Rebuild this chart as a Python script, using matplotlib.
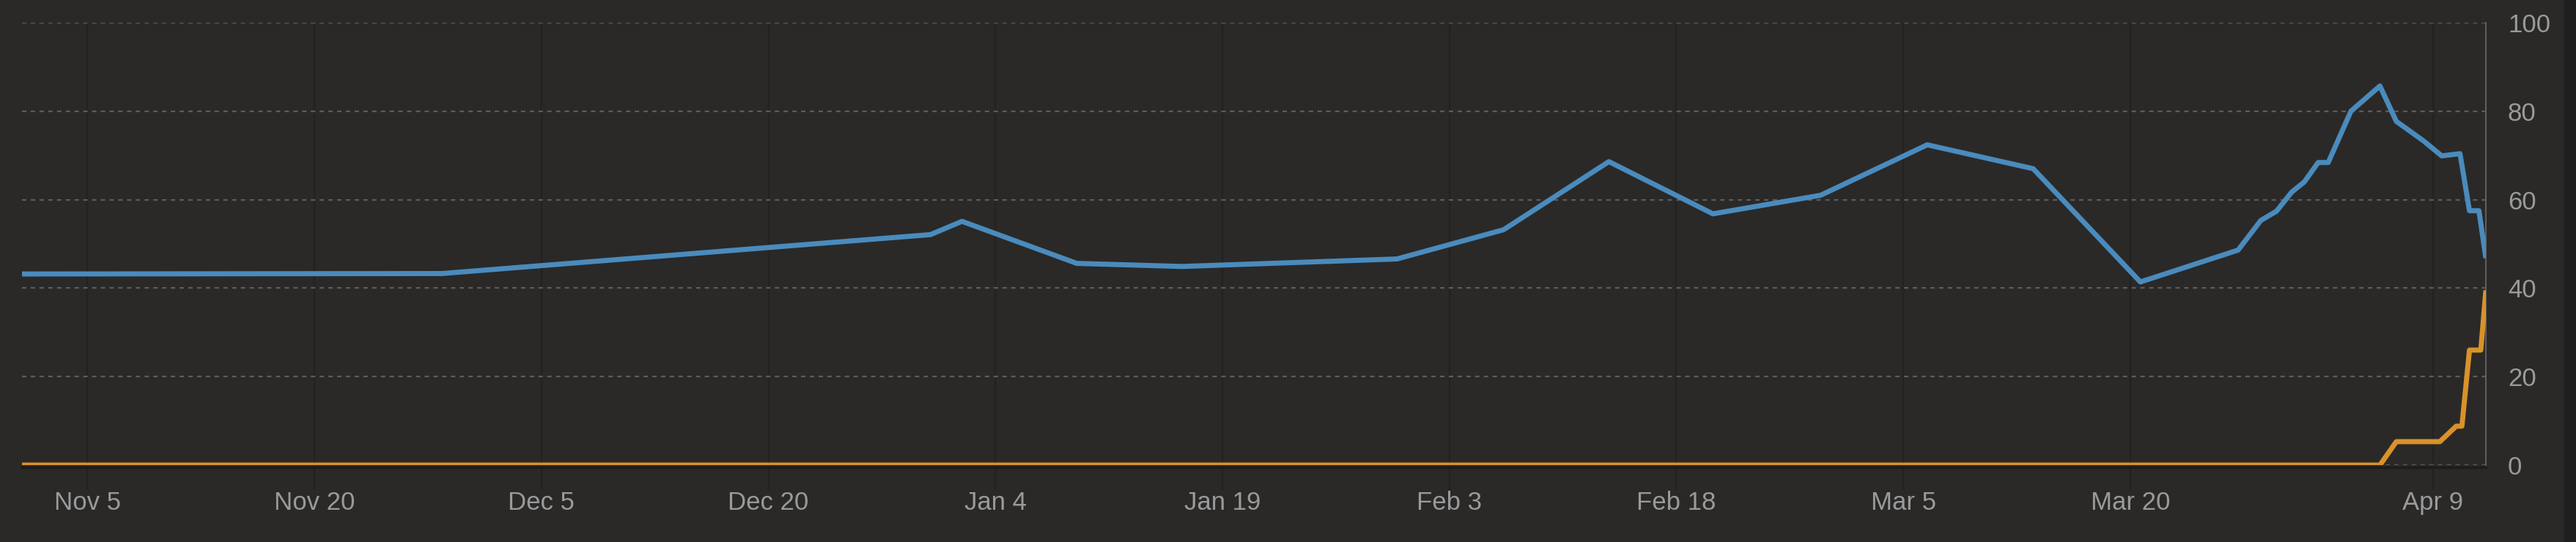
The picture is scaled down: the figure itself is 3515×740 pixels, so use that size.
import matplotlib
matplotlib.use("Agg")
import matplotlib.pyplot as plt
import matplotlib.dates as mdates
from matplotlib.patches import Rectangle
import pandas as pd

plt.rcParams['font.family'] = ['Liberation Sans', 'DejaVu Sans']
plt.rcParams['lines.scale_dashes'] = False

# ---- data ----
blue_dates = [
    "2022-10-31 16:00", "2022-11-28 10:00", "2022-12-30 17:00", "2023-01-01 19:00",
    "2023-01-09 09:00", "2023-01-16 08:00", "2023-01-30 13:00", "2023-02-06 14:00",
    "2023-02-13 13:00", "2023-02-20 10:00", "2023-02-27 13:00", "2023-03-06 14:00",
    "2023-03-13 14:00", "2023-03-20 16:00", "2023-03-27 03:00", "2023-03-28 15:00",
    "2023-03-29 16:00", "2023-03-30 16:00", "2023-03-31 12:00", "2023-04-01 10:00",
    "2023-04-02 02:00", "2023-04-03 14:00", "2023-04-05 12:00", "2023-04-06 14:00",
    "2023-04-08 09:00", "2023-04-09 14:00", "2023-04-10 19:00", "2023-04-11 10:00",
    "2023-04-12 01:00", "2023-04-12 12:00",
]
blue_values = [
    43.2, 43.3, 52.1, 55.1,
    45.6, 44.9, 46.6, 53.2,
    68.6, 56.8, 61.0, 72.4,
    67.0, 41.4, 48.6, 55.3,
    57.4, 61.7, 64.0, 68.4,
    68.4, 80.0, 85.7, 77.7,
    73.3, 69.9, 70.4, 57.5,
    57.5, 46.8,
]

orange_dates = [
    "2022-10-31 16:00", "2023-04-05 12:00", "2023-04-06 14:00", "2023-04-09 11:00",
    "2023-04-10 13:00", "2023-04-10 22:00", "2023-04-11 10:00", "2023-04-12 04:00",
    "2023-04-12 12:00",
]
orange_values = [0, 0, 5.3, 5.3, 8.8, 8.8, 26.0, 26.0, 39.5]

tick_dates = ["2022-11-05", "2022-11-20", "2022-12-05", "2022-12-20", "2023-01-04",
              "2023-01-19", "2023-02-03", "2023-02-18", "2023-03-05", "2023-03-20",
              "2023-04-09"]
tick_labels = ["Nov 5", "Nov 20", "Dec 5", "Dec 20", "Jan 4", "Jan 19", "Feb 3",
               "Feb 18", "Mar 5", "Mar 20", "Apr 9"]
y_ticks = [0, 20, 40, 60, 80, 100]

# ---- figure ----
W, H = 3516, 740
BG = '#2a2928'
fig = plt.figure(figsize=(W / 100, H / 100), dpi=100)
fig.patch.set_facecolor(BG)
fig.add_artist(Rectangle((3499 / W, 0), 17 / W, 1, transform=fig.transFigure,
                         color='#1f1f1f', zorder=0))

ax = fig.add_axes([30 / W, 105 / H, 3362 / W, 604 / H])
ax.set_facecolor(BG)

bd = pd.to_datetime(blue_dates)
od = pd.to_datetime(orange_dates)

ax.plot(bd, blue_values, color='#4a8bbd', lw=5, solid_joinstyle='round',
        solid_capstyle='butt', zorder=4)
ax.plot(od, orange_values, color='#d8922b', lw=5, solid_joinstyle='round',
        solid_capstyle='butt', zorder=3)

ax.set_xlim(bd[0], bd[-1])
ax.set_ylim(0, 100)

# grids
ax.set_axisbelow(True)
ax.yaxis.grid(True, color='#5c5c5c', linewidth=1.6, linestyle=(0, (4.3, 4.3)))
ax.xaxis.grid(True, color='#232221', linewidth=1.5)

# spines
ax.spines['left'].set_visible(False)
ax.spines['top'].set_visible(False)
ax.spines['right'].set_color('#5e5e5e')
ax.spines['right'].set_linewidth(1.5)
ax.spines['bottom'].set_color('#1c1c1c')
ax.spines['bottom'].set_linewidth(2.4)
ax.spines['bottom'].set_position(('outward', 1.8))

# ticks
ax.set_xticks(pd.to_datetime(tick_dates))
ax.set_xticklabels(tick_labels)
ax.tick_params(axis='x', length=22.5, width=1.5, color='#232221', direction='out',
               pad=1, labelsize=25, labelcolor='#9a9a9a')

ax.yaxis.tick_right()
ax.set_yticks(y_ticks)
ax.set_yticklabels([str(v) for v in y_ticks])
ax.tick_params(axis='y', length=0, pad=21.6, labelsize=25, labelcolor='#9a9a9a')

fig.savefig('out.png', dpi=100, facecolor=BG)
